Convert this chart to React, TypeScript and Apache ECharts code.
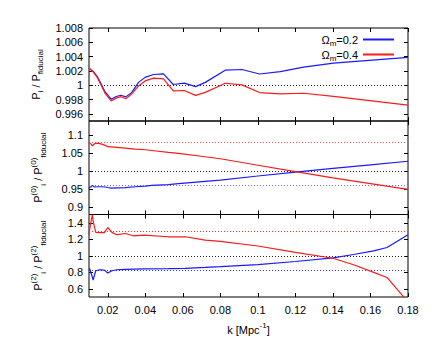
import { useEffect, useRef } from 'react';
import * as echarts from 'echarts';

const FONT = '"Liberation Sans", Arial, Helvetica, sans-serif';

const kTicks = [0.02, 0.04, 0.06, 0.08, 0.1, 0.12, 0.14, 0.16, 0.18];
const yTicks1 = [0.996, 0.998, 1, 1.002, 1.004, 1.006, 1.008];
const yTicks2 = [0.9, 0.95, 1, 1.05, 1.1];
const yTicks3 = [0.6, 0.8, 1, 1.2, 1.4];

const kRange = [0.01, 0.18];
const yRange1 = [0.995, 1.008];
const yRange2 = [0.88, 1.14];
const yRange3 = [0.5, 1.5];

const seriesNames = ['Ωm=0.2', 'Ωm=0.4'];
const seriesColors = ['#1a1aff', '#ff1a1a'];

// Panel 1: P_i / P_fiducial
const k1 = [0.01, 0.0124, 0.0144, 0.0167, 0.0185, 0.0218, 0.0245, 0.027, 0.0296, 0.0328, 0.0364, 0.0399, 0.0444, 0.0497, 0.0549, 0.0608, 0.0668, 0.072, 0.0826, 0.0915, 0.1009, 0.1119, 0.1243, 0.1403, 0.18];
const ratio1Low = [1.00237, 1.0019, 1.0012, 1.00005, 0.9991, 0.99805, 0.99842, 0.9986, 0.99837, 0.999, 1.0004, 1.0011, 1.0015, 1.0016, 1.0001, 1.0003, 0.9998, 1.0004, 1.0021, 1.0022, 1.00157, 1.0019, 1.00253, 1.0031, 1.0039];
const ratio1High = [1.00237, 1.0018, 1.0011, 0.9999, 0.9989, 0.9978, 0.9982, 0.9984, 0.9981, 0.9988, 0.9999, 1.0006, 1.001, 1.0009, 0.9992, 0.99926, 0.99858, 0.999, 1.00028, 1.00005, 0.99898, 0.9988, 0.99888, 0.99843, 0.99722];

// Panel 2: P(0)_i / P(0)_fiducial
const k2 = [0.01, 0.0111, 0.0118, 0.0129, 0.0147, 0.0168, 0.0186, 0.02, 0.0218, 0.0293, 0.0346, 0.0399, 0.0435, 0.0523, 0.0577, 0.0719, 0.08, 0.1, 0.12, 0.14, 0.16, 0.18];
const ratio2Low = [0.9536, 0.9572, 0.961, 0.9564, 0.9572, 0.9572, 0.9564, 0.955, 0.9536, 0.955, 0.9572, 0.959, 0.961, 0.963, 0.9656, 0.9722, 0.9758, 0.987, 0.998, 1.008, 1.018, 1.028];
const ratio2High = [1.0806, 1.0758, 1.0711, 1.0767, 1.0786, 1.0758, 1.0722, 1.0685, 1.068, 1.0647, 1.062, 1.06, 1.058, 1.0528, 1.05, 1.0406, 1.035, 1.017, 0.999, 0.982, 0.966, 0.95];
const ref2 = [0.957, 1.078];

// Panel 3: P(2)_i / P(2)_fiducial
const k3 = [0.01, 0.0104, 0.0118, 0.0122, 0.0136, 0.0157, 0.0182, 0.02, 0.0222, 0.0248, 0.0293, 0.0337, 0.039, 0.0523, 0.0613, 0.0719, 0.08, 0.1, 0.12, 0.14, 0.151, 0.1617, 0.1688, 0.18];
const ratio3Low = [0.845, 0.84, 0.74, 0.705, 0.818, 0.83, 0.826, 0.79, 0.818, 0.83, 0.835, 0.839, 0.84, 0.843, 0.848, 0.858, 0.867, 0.893, 0.93, 0.975, 1.015, 1.06, 1.1, 1.255];
const ratio3High = [1.2545, 1.33, 1.5, 1.42, 1.283, 1.28, 1.28, 1.343, 1.283, 1.255, 1.27, 1.242, 1.25, 1.23, 1.23, 1.19, 1.174, 1.118, 1.04, 0.97, 0.891, 0.798, 0.737, 0.44];
const ref3 = [0.83, 1.3];

const fmt = (v: number) => String(parseFloat(v.toFixed(4)));

const main = { fontSize: 11, fontFamily: FONT, color: '#000', lineHeight: 18 };
const sub = { fontSize: 8, fontFamily: FONT, color: '#000', verticalAlign: 'bottom', lineHeight: 9 };
const sup = { fontSize: 8, fontFamily: FONT, color: '#000', verticalAlign: 'top', lineHeight: 9 };
const rich = { a: main, sub, sup };

const yNames = [
  '{a|P}{sub|i}{a| / P}{sub|fiducial}',
  '{a|P}{sup|(0)}{sub|i}{a| / P}{sup|(0)}{sub|fiducial}',
  '{a|P}{sup|(2)}{sub|i}{a| / P}{sup|(2)}{sub|fiducial}',
];

export default function App() {
  const ref = useRef<HTMLDivElement>(null);
  useEffect(() => {
    if (!ref.current) return;
    const chart = echarts.init(ref.current, undefined, { renderer: 'svg' });

    const grids = [
      { left: 89, right: 32, top: 28, height: 93 },
      { left: 89, right: 32, top: 121, height: 93.5 },
      { left: 89, right: 32, top: 214.5, height: 82.5 },
    ].map((g) => ({ ...g, show: true, borderColor: '#000', borderWidth: 1, backgroundColor: 'transparent', outerBoundsMode: 'none' }));

    const yRanges = [yRange1, yRange2, yRange3];
    const yTicks = [yTicks1, yTicks2, yTicks3];

    const xAxis: any[] = [];
    const yAxis: any[] = [];
    grids.forEach((_, i) => {
      ['bottom', 'top'].forEach((pos) => {
        const showLab = i === 2 && pos === 'bottom';
        xAxis.push({
          type: 'value', gridIndex: i, position: pos, min: kRange[0], max: kRange[1],
          axisLine: { show: false }, splitLine: { show: false },
          axisTick: { show: true, inside: true, length: 4, customValues: kTicks, lineStyle: { color: '#000', width: 1 } },
          axisLabel: { show: showLab, customValues: kTicks, formatter: fmt, color: '#000', fontSize: 11, fontFamily: FONT, margin: 7 },
          name: showLab ? '{a|k [Mpc}{sup|-1}{a|]}' : '',
          nameLocation: 'middle', nameGap: 24,
          nameTextStyle: { rich },
        });
      });
      ['left', 'right'].forEach((pos) => {
        const showLab = pos === 'left';
        yAxis.push({
          type: 'value', gridIndex: i, position: pos, min: yRanges[i][0], max: yRanges[i][1],
          axisLine: { show: false }, splitLine: { show: false },
          axisTick: { show: true, inside: true, length: 4, customValues: yTicks[i], lineStyle: { color: '#000', width: 1 } },
          axisLabel: { show: showLab, customValues: yTicks[i], formatter: fmt, color: '#000', fontSize: 11, fontFamily: FONT, margin: 6 },
          name: showLab ? yNames[i] : '',
          nameLocation: 'middle', nameGap: 42, nameRotate: 90,
          nameTextStyle: { rich },
        });
      });
    });

    const dotted = (v: number, color: string) => ({
      yAxis: v,
      lineStyle: { color, type: [1, 2], width: 1 },
    });

    const mk = (grid: number, si: number, ks: number[], vals: number[], marks: any[]) => ({
      type: 'line', name: seriesNames[si], xAxisIndex: grid * 2, yAxisIndex: grid * 2,
      data: ks.map((k, j) => [k, vals[j]]),
      symbol: 'none', showSymbol: false, clip: true,
      lineStyle: { color: seriesColors[si], width: 1.2 },
      itemStyle: { color: seriesColors[si] },
      z: 3,
      markLine: marks.length ? { silent: true, symbol: ['none', 'none'], label: { show: false }, data: marks, z: 2 } : undefined,
    });

    const series = [
      mk(0, 0, k1, ratio1Low, [dotted(1, '#222')]),
      mk(0, 1, k1, ratio1High, []),
      mk(1, 0, k2, ratio2Low, [dotted(1, '#222'), dotted(ref2[0], '#6f6fff')]),
      mk(1, 1, k2, ratio2High, [dotted(ref2[1], '#ff5050')]),
      mk(2, 0, k3, ratio3Low, [dotted(1, '#222'), dotted(ref3[0], '#3030ff')]),
      mk(2, 1, k3, ratio3High, [dotted(ref3[1], '#ff3030')]),
    ];

    chart.setOption({
      animation: false,
      backgroundColor: '#fff',
      textStyle: { fontFamily: FONT },
      grid: grids,
      xAxis,
      yAxis,
      legend: {
        data: seriesNames,
        orient: 'vertical',
        align: 'right',
        right: 46,
        top: 34,
        itemWidth: 31,
        itemHeight: 16,
        itemGap: 2,
        padding: 0,
        icon: 'path://M0,7 L31,7 L31,9 L0,9 Z',
        selectedMode: false,
        formatter: (name: string) => {
          const v = name.split('=')[1];
          return '{a|Ω}{sub|m}{a|=' + v + '}';
        },
        textStyle: { rich: { a: { fontSize: 11, fontFamily: FONT, color: '#000', lineHeight: 15 }, sub: { fontSize: 8, fontFamily: FONT, color: '#000', verticalAlign: 'bottom', lineHeight: 8 } } },
      },
      series,
    });
    return () => chart.dispose();
  }, []);
  return <div ref={ref} style={{ position: 'absolute', left: 0, top: 0, width: 440, height: 340 }} />;
}
